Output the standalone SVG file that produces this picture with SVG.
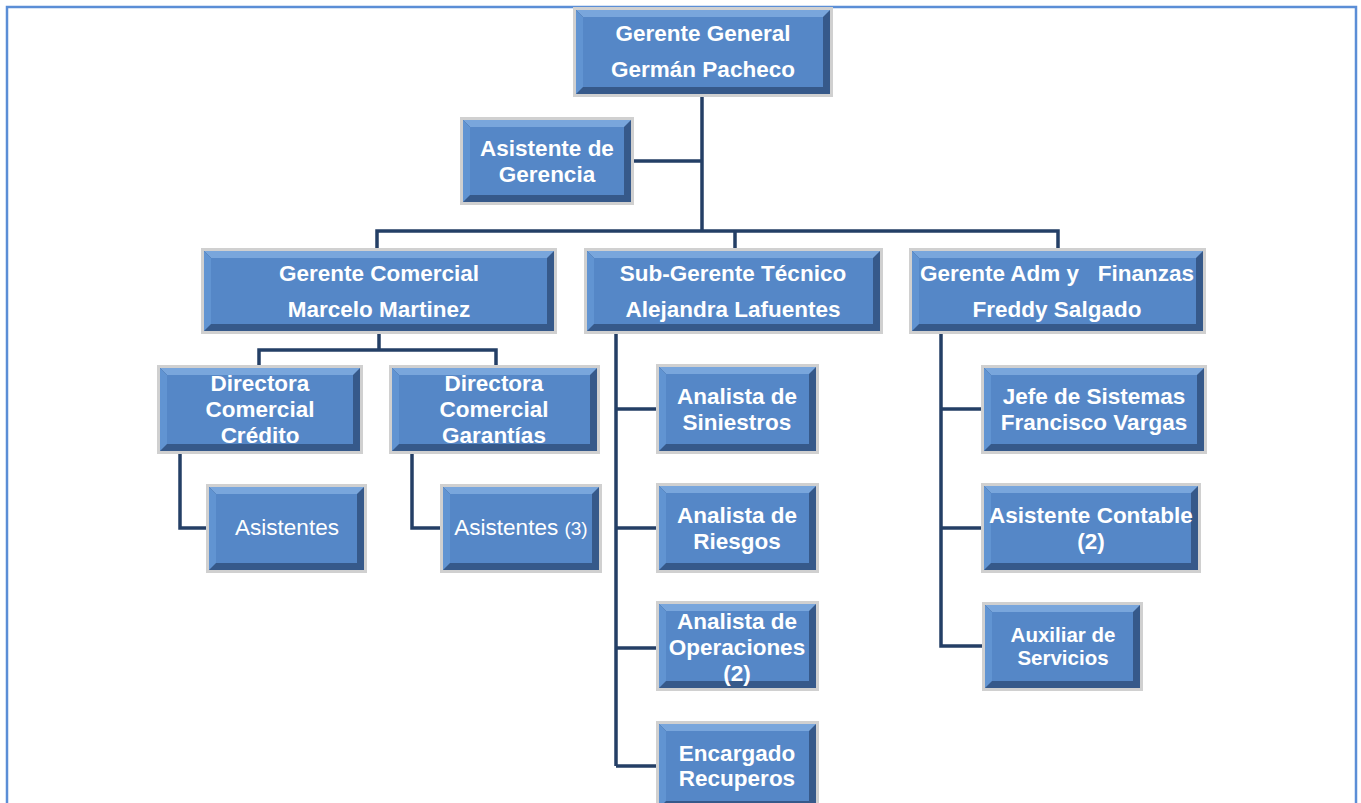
<svg xmlns="http://www.w3.org/2000/svg" width="1361" height="803" viewBox="0 0 1361 803">
<style>
.frame{fill:none;stroke:#5b8ed6;stroke-width:2.5}
.sh{fill:#d0d0d0}
.bd{fill:#36598a}
.tp{fill:#79a6dc}
.lf{fill:#6194d2}
.in{fill:#5587c7}
.t{font-family:"Liberation Sans",Arial,sans-serif;font-weight:bold;font-size:22.5px;fill:#ffffff;text-anchor:middle}
.r{font-family:"Liberation Sans",Arial,sans-serif;font-size:22.5px;fill:#ffffff;text-anchor:middle}
.sm{font-size:20.5px}
.c{fill:none;stroke:#243f66;stroke-width:3.5;stroke-linejoin:miter}
</style>
<rect class="frame" x="7" y="7" width="1349" height="810"/>
<g id="connectors">
<path class="c" d="M702 96 V232 M632 161 H702 M377 249 V231 H1058 V249 M702 231 H735 V249"/>
<path class="c" d="M379 333 V350 M259 366 V350 H496 V366"/>
<path class="c" d="M180 453 V528 H207 M412 453 V528 H441"/>
<path class="c" d="M616 333 V766 M616 409 H657 M616 528 H657 M616 648 H657 M616 766 H657"/>
<path class="c" d="M941 333 V646 H982 M941 409 H982 M941 528 H982"/>
</g>
<g id="n-gerente-general" transform="translate(576,10)">
<rect class="sh" x="-3" y="-3" width="260" height="90"/><rect class="bd" width="254" height="84"/><polygon class="tp" points="0,0 254,0 247,7 7,7"/><polygon class="lf" points="0,0 7,7 7,77 0,84"/><rect class="in" x="7" y="7" width="240" height="70"/>
<text class="t" x="127" y="31">Gerente General</text><text class="t" x="127" y="67">Germán Pacheco</text></g>
<g id="n-asistente-gerencia" transform="translate(463,120)">
<rect class="sh" x="-3" y="-3" width="174" height="88"/><rect class="bd" width="168" height="82"/><polygon class="tp" points="0,0 168,0 161,7 7,7"/><polygon class="lf" points="0,0 7,7 7,75 0,82"/><rect class="in" x="7" y="7" width="154" height="68"/>
<text class="t" x="84" y="36">Asistente de</text><text class="t" x="84" y="62">Gerencia</text></g>
<g id="n-gerente-comercial" transform="translate(204,251)">
<rect class="sh" x="-3" y="-3" width="356" height="86"/><rect class="bd" width="350" height="80"/><polygon class="tp" points="0,0 350,0 343,7 7,7"/><polygon class="lf" points="0,0 7,7 7,73 0,80"/><rect class="in" x="7" y="7" width="336" height="66"/>
<text class="t" x="175" y="30">Gerente Comercial</text><text class="t" x="175" y="66">Marcelo Martinez</text></g>
<g id="n-subgerente-tecnico" transform="translate(587,251)">
<rect class="sh" x="-3" y="-3" width="299" height="86"/><rect class="bd" width="293" height="80"/><polygon class="tp" points="0,0 293,0 286,7 7,7"/><polygon class="lf" points="0,0 7,7 7,73 0,80"/><rect class="in" x="7" y="7" width="279" height="66"/>
<text class="t" x="146" y="30">Sub-Gerente Técnico</text><text class="t" x="146" y="66">Alejandra Lafuentes</text></g>
<g id="n-gerente-adm" transform="translate(912,251)">
<rect class="sh" x="-3" y="-3" width="297" height="86"/><rect class="bd" width="291" height="80"/><polygon class="tp" points="0,0 291,0 284,7 7,7"/><polygon class="lf" points="0,0 7,7 7,73 0,80"/><rect class="in" x="7" y="7" width="277" height="66"/>
<text class="t" x="145" y="30" xml:space="preserve" style="white-space:pre">Gerente Adm y   Finanzas</text><text class="t" x="145" y="66">Freddy Salgado</text></g>
<g id="n-dir-credito" transform="translate(160,368)">
<rect class="sh" x="-3" y="-3" width="206" height="89"/><rect class="bd" width="200" height="83"/><polygon class="tp" points="0,0 200,0 193,7 7,7"/><polygon class="lf" points="0,0 7,7 7,76 0,83"/><rect class="in" x="7" y="7" width="186" height="69"/>
<text class="t" x="100" y="23">Directora</text><text class="t" x="100" y="49">Comercial</text><text class="t" x="100" y="75">Crédito</text></g>
<g id="n-dir-garantias" transform="translate(392,368)">
<rect class="sh" x="-3" y="-3" width="211" height="89"/><rect class="bd" width="205" height="83"/><polygon class="tp" points="0,0 205,0 198,7 7,7"/><polygon class="lf" points="0,0 7,7 7,76 0,83"/><rect class="in" x="7" y="7" width="191" height="69"/>
<text class="t" x="102" y="23">Directora</text><text class="t" x="102" y="49">Comercial</text><text class="t" x="102" y="75">Garantías</text></g>
<g id="n-asistentes" transform="translate(209,487)">
<rect class="sh" x="-3" y="-3" width="161" height="89"/><rect class="bd" width="155" height="83"/><polygon class="tp" points="0,0 155,0 148,7 7,7"/><polygon class="lf" points="0,0 7,7 7,76 0,83"/><rect class="in" x="7" y="7" width="141" height="69"/>
<text class="r" x="78" y="48">Asistentes</text></g>
<g id="n-asistentes3" transform="translate(443,487)">
<rect class="sh" x="-3" y="-3" width="162" height="89"/><rect class="bd" width="156" height="83"/><polygon class="tp" points="0,0 156,0 149,7 7,7"/><polygon class="lf" points="0,0 7,7 7,76 0,83"/><rect class="in" x="7" y="7" width="142" height="69"/>
<text class="r" x="78" y="48">Asistentes <tspan style="font-size:19px">(3)</tspan></text></g>
<g id="n-siniestros" transform="translate(659,367)">
<rect class="sh" x="-3" y="-3" width="163" height="90"/><rect class="bd" width="157" height="84"/><polygon class="tp" points="0,0 157,0 150,7 7,7"/><polygon class="lf" points="0,0 7,7 7,77 0,84"/><rect class="in" x="7" y="7" width="143" height="70"/>
<text class="t" x="78" y="37">Analista de</text><text class="t" x="78" y="63">Siniestros</text></g>
<g id="n-riesgos" transform="translate(659,486)">
<rect class="sh" x="-3" y="-3" width="163" height="90"/><rect class="bd" width="157" height="84"/><polygon class="tp" points="0,0 157,0 150,7 7,7"/><polygon class="lf" points="0,0 7,7 7,77 0,84"/><rect class="in" x="7" y="7" width="143" height="70"/>
<text class="t" x="78" y="37">Analista de</text><text class="t" x="78" y="63">Riesgos</text></g>
<g id="n-operaciones" transform="translate(659,604)">
<rect class="sh" x="-3" y="-3" width="163" height="90"/><rect class="bd" width="157" height="84"/><polygon class="tp" points="0,0 157,0 150,7 7,7"/><polygon class="lf" points="0,0 7,7 7,77 0,84"/><rect class="in" x="7" y="7" width="143" height="70"/>
<text class="t" x="78" y="25">Analista de</text><text class="t" x="78" y="51">Operaciones</text><text class="t" x="78" y="77">(2)</text></g>
<g id="n-recuperos" transform="translate(659,724)">
<rect class="sh" x="-3" y="-3" width="163" height="90"/><rect class="bd" width="157" height="84"/><polygon class="tp" points="0,0 157,0 150,7 7,7"/><polygon class="lf" points="0,0 7,7 7,77 0,84"/><rect class="in" x="7" y="7" width="143" height="70"/>
<text class="t" x="78" y="37">Encargado</text><text class="t" x="78" y="62">Recuperos</text></g>
<g id="n-sistemas" transform="translate(984,368)">
<rect class="sh" x="-3" y="-3" width="226" height="89"/><rect class="bd" width="220" height="83"/><polygon class="tp" points="0,0 220,0 213,7 7,7"/><polygon class="lf" points="0,0 7,7 7,76 0,83"/><rect class="in" x="7" y="7" width="206" height="69"/>
<text class="t" x="110" y="36">Jefe de Sistemas</text><text class="t" x="110" y="62">Francisco Vargas</text></g>
<g id="n-contable" transform="translate(984,486)">
<rect class="sh" x="-3" y="-3" width="220" height="90"/><rect class="bd" width="214" height="84"/><polygon class="tp" points="0,0 214,0 207,7 7,7"/><polygon class="lf" points="0,0 7,7 7,77 0,84"/><rect class="in" x="7" y="7" width="200" height="70"/>
<text class="t" x="107" y="37">Asistente Contable</text><text class="t" x="107" y="63">(2)</text></g>
<g id="n-auxiliar" transform="translate(985,605)">
<rect class="sh" x="-3" y="-3" width="161" height="89"/><rect class="bd" width="155" height="83"/><polygon class="tp" points="0,0 155,0 148,7 7,7"/><polygon class="lf" points="0,0 7,7 7,76 0,83"/><rect class="in" x="7" y="7" width="141" height="69"/>
<text class="t sm" x="78" y="37">Auxiliar de</text><text class="t sm" x="78" y="60">Servicios</text></g>
</svg>
